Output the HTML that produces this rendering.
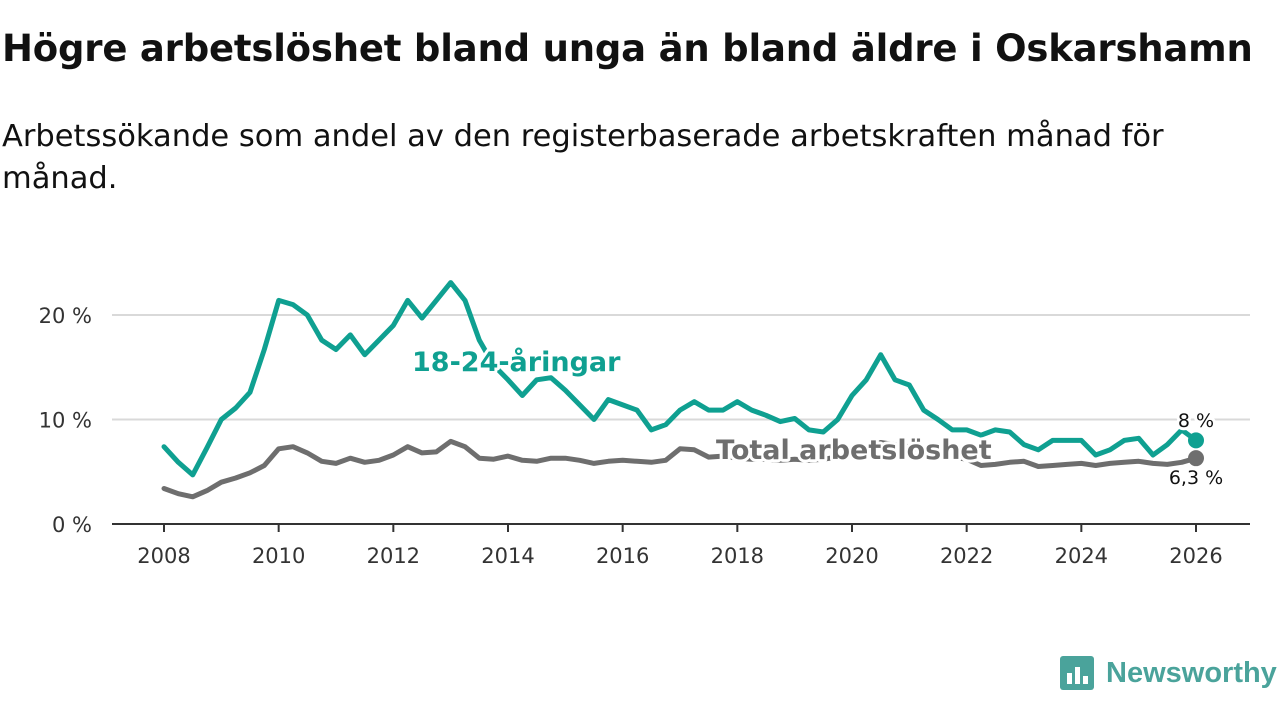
<!DOCTYPE html>
<html><head><meta charset="utf-8">
<style>
body{margin:0;width:1280px;height:720px;background:#fff;font-family:"DejaVu Sans","Liberation Sans",sans-serif;overflow:hidden;position:relative;color:#111}
h1{position:absolute;left:2px;top:27px;margin:0;font-size:37px;font-weight:bold;letter-spacing:-0.2px;white-space:nowrap}
.sub{position:absolute;left:2px;top:116px;margin:0;font-size:30.5px;line-height:42px;width:1200px}
svg{position:absolute;left:0;top:0}
</style></head><body>
<h1>Högre arbetslöshet bland unga än bland äldre i Oskarshamn</h1>
<p class="sub">Arbetssökande som andel av den registerbaserade arbetskraften månad för månad.</p>
<svg id="chart" width="1280" height="720"></svg>
<script>
const years=[2008,2008.25,2008.5,2008.75,2009,2009.25,2009.5,2009.75,2010,2010.25,2010.5,2010.75,2011,2011.25,2011.5,2011.75,2012,2012.25,2012.5,2012.75,2013,2013.25,2013.5,2013.75,2014,2014.25,2014.5,2014.75,2015,2015.25,2015.5,2015.75,2016,2016.25,2016.5,2016.75,2017,2017.25,2017.5,2017.75,2018,2018.25,2018.5,2018.75,2019,2019.25,2019.5,2019.75,2020,2020.25,2020.5,2020.75,2021,2021.25,2021.5,2021.75,2022,2022.25,2022.5,2022.75,2023,2023.25,2023.5,2023.75,2024,2024.25,2024.5,2024.75,2025,2025.25,2025.5,2025.75,2026];
const youth=[7.4,5.9,4.7,7.3,10,11.1,12.6,16.7,21.4,21,20,17.6,16.7,18.1,16.2,17.6,19,21.4,19.7,21.4,23.1,21.4,17.6,15.2,13.8,12.3,13.8,14,12.8,11.4,10,11.9,11.4,10.9,9,9.5,10.9,11.7,10.9,10.9,11.7,10.9,10.4,9.8,10.1,9,8.8,10,12.3,13.8,16.2,13.8,13.3,10.9,10,9,9,8.5,9,8.8,7.6,7.1,8,8,8,6.6,7.1,8,8.2,6.6,7.6,9,8];
const total=[3.4,2.9,2.6,3.2,4,4.4,4.9,5.6,7.2,7.4,6.8,6,5.8,6.3,5.9,6.1,6.6,7.4,6.8,6.9,7.9,7.4,6.3,6.2,6.5,6.1,6,6.3,6.3,6.1,5.8,6,6.1,6,5.9,6.1,7.2,7.1,6.4,6.5,6.3,6.2,6.2,6.1,6.2,6.1,6.2,6.4,6.8,7.3,7.8,7.6,7.4,7,6.6,6.4,6.2,5.6,5.7,5.9,6,5.5,5.6,5.7,5.8,5.6,5.8,5.9,6,5.8,5.7,5.9,6.3];
const yTicks=[0,10,20];
const xTicks=[2008,2010,2012,2014,2016,2018,2020,2022,2024,2026];
const NS='http://www.w3.org/2000/svg';
const svg=document.getElementById('chart');
const X=v=>164+(v-2008)*(1196-164)/18;
const Y=v=>524-v*10.45;
function mk(t,a,p){const e=document.createElementNS(NS,t);for(const k in a)e.setAttribute(k,a[k]);(p||svg).appendChild(e);return e;}
yTicks.forEach(v=>{
  if(v>0){const g=mk('line',{x1:112,x2:1250,y1:Y(v),y2:Y(v),stroke:'#d9d9d9','stroke-width':2});
  
  }
  const t=mk('text',{x:92,y:Y(v)+8,'text-anchor':'end','font-size':21,fill:'#333'});t.textContent=v+' %';
  
  
});
const ax=mk('line',{x1:112,x2:1250,y1:524,y2:524,stroke:'#333','stroke-width':2});


xTicks.forEach(v=>{
  mk('line',{x1:X(v),x2:X(v),y1:524,y2:532,stroke:'#333','stroke-width':2});
  const t=mk('text',{x:X(v),y:563,'text-anchor':'middle','font-size':21,fill:'#333'});t.textContent=v;
  
  
});
function line(arr,col,name){
  const d=arr.map((v,i)=>(i?'L':'M')+X(years[i]).toFixed(1)+','+Y(v).toFixed(1)).join('');
  const p=mk('path',{d:d,fill:'none',stroke:col,'stroke-width':5,'stroke-linejoin':'round','stroke-linecap':'round'});
  
  
  const n=arr.length-1;
  const c=mk('circle',{cx:X(years[n]),cy:Y(arr[n]),r:8,fill:col});
  
  
}
line(total,'#6e6e6e','total-line');
line(youth,'#0fa091','youth-line');
function lab(x,y,txt,col,size,w,name,anchor){
  const t=mk('text',{x:x,y:y,'font-size':size,'font-weight':w,fill:col,stroke:'#fff','stroke-width':6,'paint-order':'stroke','stroke-linejoin':'round','text-anchor':anchor||'start'});
  t.textContent=txt;
  
  
}
lab(412,371,'18-24-åringar','#0fa091',27,'bold','youth-series-label');
lab(716,459,'Total arbetslöshet','#6e6e6e',27,'bold','total-series-label');
lab(1196,427,'8 %','#111',19,'normal','youth-end-value','middle');
lab(1196,484,'6,3 %','#111',19,'normal','total-end-value','middle');
const lg=mk('g',{});


mk('rect',{x:1060,y:656,width:34,height:34,rx:3,fill:'#4aa39b'},lg);
mk('rect',{x:1067,y:673,width:5,height:11,fill:'#fff'},lg);
mk('rect',{x:1075,y:667,width:5,height:17,fill:'#fff'},lg);
mk('rect',{x:1083,y:676,width:5,height:8,fill:'#fff'},lg);
const lt=mk('text',{x:1106,y:682,'font-size':29,'font-weight':'bold',fill:'#4aa39b','font-family':'Liberation Sans, sans-serif'},lg);lt.textContent='Newsworthy';
</script>
</body></html>
